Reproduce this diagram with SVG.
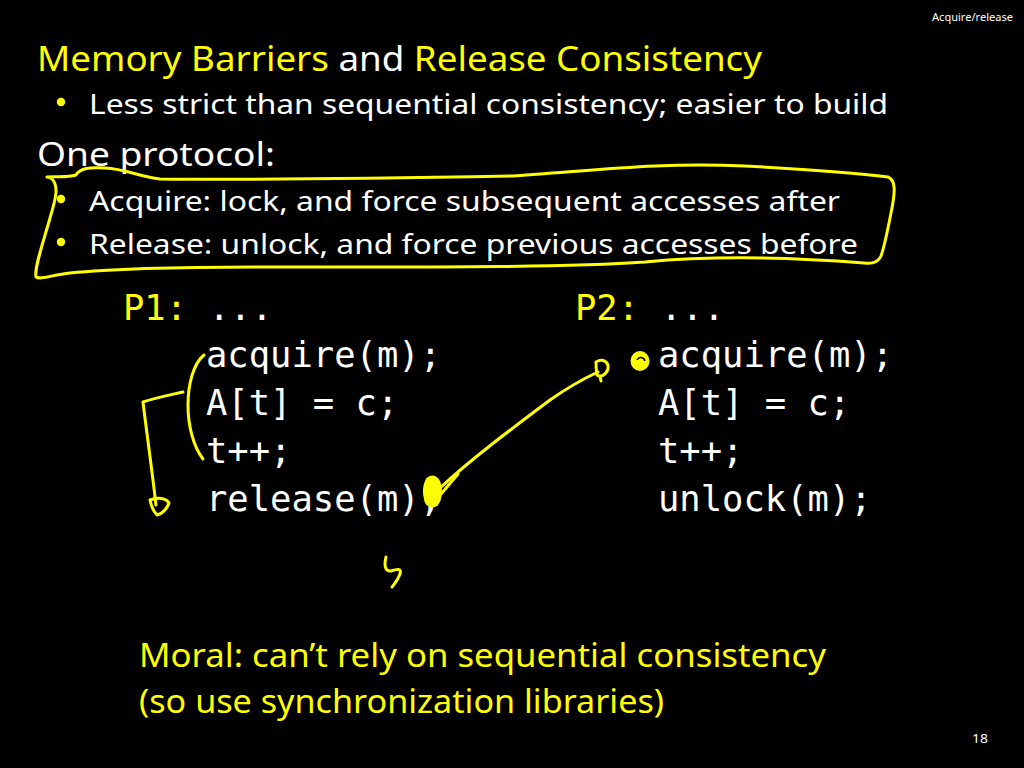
<svg xmlns="http://www.w3.org/2000/svg" width="1024" height="768" viewBox="0 0 1024 768">
<style>
.t{font-family:"Noto Sans","Open Sans","Liberation Sans",sans-serif;fill:#ffffff}
.y{fill:#ffff00}
.code{font-family:"DejaVu Sans Mono","Liberation Mono",monospace;font-size:35.5px;fill:#ffffff}
.ink{fill:none;stroke:#ffff00;stroke-width:3;stroke-linecap:round;stroke-linejoin:round}
.inkf{fill:#ffff00;stroke:#ffff00;stroke-width:2;stroke-linejoin:round}
</style>
<rect width="1024" height="768" fill="#000000"/>
<g id="header">
<text class="t" x="932" y="21" font-size="11.5" textLength="81" lengthAdjust="spacingAndGlyphs">Acquire/release</text>
<text class="t" x="972" y="743" font-size="13" textLength="16" lengthAdjust="spacingAndGlyphs">18</text>
</g>
<g id="title">
<text class="t" x="37" y="71" font-size="35" textLength="725" lengthAdjust="spacingAndGlyphs"><tspan class="y">Memory Barriers</tspan> and <tspan class="y">Release Consistency</tspan></text>
</g>
<g id="bullets">
<circle cx="61" cy="102" r="4.2" fill="#ffff00"/>
<text class="t" x="89" y="114" font-size="28" textLength="799" lengthAdjust="spacingAndGlyphs">Less strict than sequential consistency; easier to build</text>
<text class="t" x="37" y="166" font-size="33" textLength="238" lengthAdjust="spacingAndGlyphs">One protocol:</text>
<circle cx="61" cy="199" r="4.2" fill="#ffff00"/>
<text class="t" x="89" y="211" font-size="28" textLength="751" lengthAdjust="spacingAndGlyphs">Acquire: lock, and force subsequent accesses after</text>
<circle cx="61" cy="242" r="4.2" fill="#ffff00"/>
<text class="t" x="89" y="254" font-size="28" textLength="769" lengthAdjust="spacingAndGlyphs">Release: unlock, and force previous accesses before</text>
</g>
<g id="p1">
<text class="code" x="123" y="320"><tspan class="y">P1:</tspan> ...</text>
<text class="code" x="206" y="367">acquire(m);</text>
<text class="code" x="206" y="415">A[t] = c;</text>
<text class="code" x="206" y="463">t++;</text>
<text class="code" x="206" y="511">release(m);</text>
</g>
<g id="p2">
<text class="code" x="575" y="320"><tspan class="y">P2:</tspan> ...</text>
<text class="code" x="658" y="367">acquire(m);</text>
<text class="code" x="658" y="415">A[t] = c;</text>
<text class="code" x="658" y="463">t++;</text>
<text class="code" x="658" y="511">unlock(m);</text>
</g>
<g id="moral">
<text class="t y" x="139" y="667" font-size="33" textLength="687" lengthAdjust="spacingAndGlyphs">Moral: can’t rely on sequential consistency</text>
<text class="t y" x="139" y="713" font-size="33" textLength="525" lengthAdjust="spacingAndGlyphs">(so use synchronization libraries)</text>
</g>
<g id="annotations">
<path class="ink" d="M47,177 C55,176 66,178 76,175 C80,168 90,167 105,168 C125,169 138,176 160,179 C250,180 400,178 512,176 C600,170 660,162 745,166 C820,170 865,174 888,177 C896,180 895,192 892,208 C888,228 885,245 881,256 C878,263 872,264 864,263 C800,258 720,255 645,262 C560,268 400,267 267,267 C180,267 110,269 70,273 C52,275 40,280 36,277 C34,268 44,240 50,218 C56,198 59,186 52,179 C50,177 48,177 47,177"/>
<path class="ink" d="M204,355 C193,364 188,385 188,405 C188,425 193,446 203,459"/>
<path class="ink" d="M183,392 C170,395 155,398 143,402 C147,435 152,470 156,505"/>
<path class="ink" d="M150,500 C158,497 166,498 169,503 C167,509 162,514 157,515 C153,511 151,505 150,500 Z"/>
<path class="ink" stroke-width="3.5" d="M440,488 C470,460 510,430 550,400 C570,386 585,378 598,372"/>
<path class="ink" stroke-width="2" d="M441,494 L458,474"/>
<path class="inkf" d="M427,479 C432,474 438,477 440,484 C442,491 441,500 437,505 C432,508 426,506 425,499 C423,492 424,485 427,479 Z"/>
<path class="ink" d="M596,362 C603,358 609,362 608,369 C606,375 600,378 597,375 C596,370 596,366 596,362 Z M600,376 L601,381"/>
<ellipse class="inkf" cx="640" cy="361" rx="8.5" ry="9"/>
<path fill="none" stroke="#000000" stroke-width="1.5" d="M637,360 C639,356 644,357 645,361"/>
<path class="ink" d="M386,557 C384,565 385,572 391,571 C397,569 402,568 400,574 C398,580 395,583 392,587"/>
</g>
</svg>
